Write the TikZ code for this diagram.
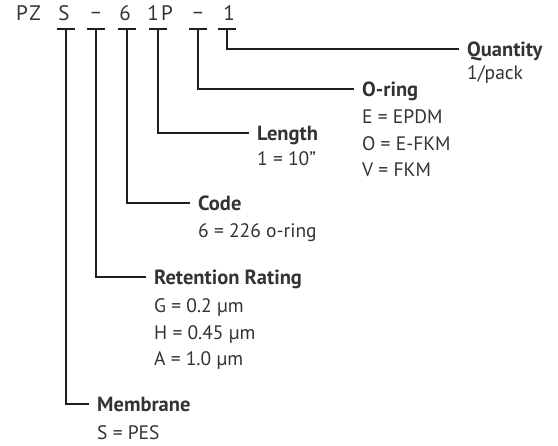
\documentclass[tikz,border=0pt]{standalone}
\usepackage{fontspec}
\setmainfont{PT Sans}
\usepackage{xcolor}
\usepackage{tikz}

\definecolor{ink}{HTML}{333333}
\definecolor{rule}{HTML}{1E1E1E}

\tikzset{
  digit/.style={anchor=base,inner sep=0pt,text=ink,font=\fontsize{21}{21}\selectfont},
  head/.style={anchor=base west,inner sep=0pt,text=ink,text height=16pt,text depth=0pt,
    font=\fontsize{20.5}{20}\selectfont\bfseries},
  item/.style={anchor=base west,inner sep=0pt,text=ink,font=\fontsize{19.5}{19}\selectfont},
  lead/.style={draw=rule,line width=1.4pt}
}

\begin{document}
\begin{tikzpicture}[x=1pt,y=-1pt]
    \useasboundingbox (0,0) rectangle (558,446);
    % part number
    \node[digit] (tP) at (22,21) {P};
    \node[digit] (tZ) at (35,21) {Z};
    \node[digit] (tS) at (64,21) {S};
    \node[digit] (tdashA) at (96,10) {\_};
    \node[digit] (tsix) at (125,21) {6};
    \node[digit] (tone) at (153,21) {1};
    \node[digit] (tP2) at (167,21) {P};
    \node[digit] (tdashB) at (198,10) {\_};
    \node[digit] (tqty) at (229,21) {1};
    % ticks under the characters
    \coordinate (kS) at (66,29);
    \coordinate (kA) at (96,29);
    \coordinate (kB) at (127,29);
    \coordinate (kC) at (158,29);
    \coordinate (kD) at (198,29);
    \coordinate (kE) at (227,29);
    \foreach \k in {kS,kA,kB,kC,kD,kE}
      \draw[lead] ([xshift=-9pt]\k) -- ([xshift=9pt]\k);
    % headings
    \node[head] (quantity) at (467,57) {Quantity};
    \node[item] (qa) at (467,80) {1/pack};
    \node[head] (oring) at (362,97) {O-ring};
    \node[item] (oa) at (362,124) {E = EPDM};
    \node[item] (ob) at (362,151) {O = E-FKM};
    \node[item] (oc) at (362,177) {V = FKM};
    \node[head] (length) at (257,141) {Length};
    \node[item] (la) at (257,166) {1 = 10"};
    \node[head] (code) at (198,211) {Code};
    \node[item] (ca) at (198,238) {6 = 226 o-ring};
    \node[head] (retention) at (154,285) {Retention Rating};
    \node[item] (ra) at (154,313) {G = 0.2 µm};
    \node[item] (rb) at (154,340) {H = 0.45 µm};
    \node[item] (rc) at (154,366) {A = 1.0 µm};
    \node[head] (membrane) at (97,412) {Membrane};
    \node[item] (ma) at (97,440) {S = PES};
    % leaders
    \draw[lead] (kE) |- ([xshift=-8pt]quantity.west);
    \draw[lead] (kD) |- ([xshift=-8pt]oring.west);
    \draw[lead] (kC) |- ([xshift=-8pt]length.west);
    \draw[lead] (kB) |- ([xshift=-8pt]code.west);
    \draw[lead] (kA) |- ([xshift=-8pt]retention.west);
    \draw[lead] (kS) |- ([xshift=-8pt]membrane.west);
\end{tikzpicture}
\end{document}
